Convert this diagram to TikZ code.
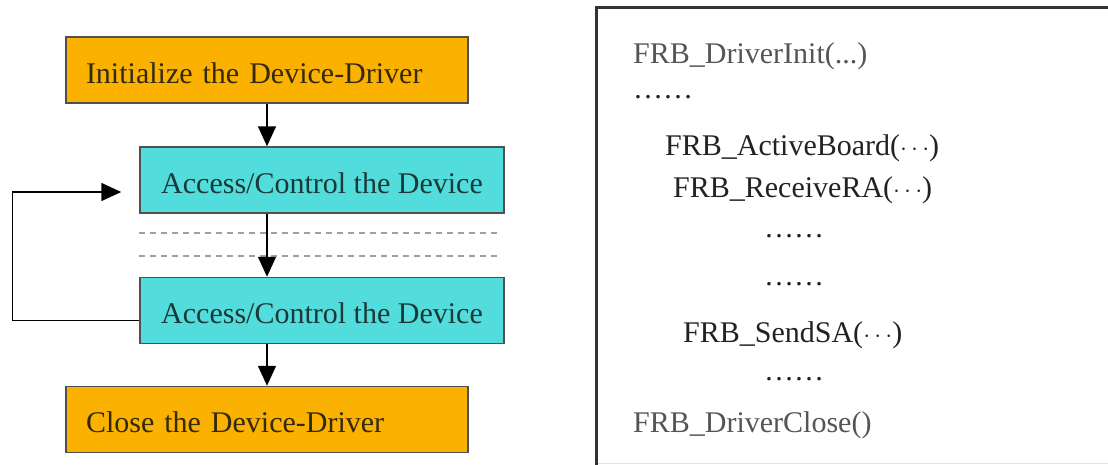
\documentclass[tikz,border=0pt]{standalone}
\usepackage{fontspec}
\setmainfont{Liberation Serif}
\usetikzlibrary{arrows.meta,calc}
\definecolor{boxorange}{HTML}{FBB100}
\definecolor{boxcyan}{HTML}{52DCDC}
\definecolor{edgegray}{HTML}{505050}
\definecolor{txtbrown}{HTML}{33290C}
\definecolor{txtteal}{HTML}{1C3838}
\definecolor{codegray}{HTML}{555555}
\definecolor{codedark}{HTML}{222222}
\begin{document}
\begin{tikzpicture}[x=1pt,y=-1pt,
  every node/.style={font=\fontsize{30}{32}\selectfont, inner sep=0pt},
  orangebox/.style={draw=edgegray, line width=1.5pt, fill=boxorange, text=txtbrown,
    minimum width=402pt, minimum height=66pt, text width=362pt, align=left,
    text height=26pt, text depth=0pt},
  cyanbox/.style={draw=edgegray, line width=1.5pt, fill=boxcyan, text=txtteal,
    minimum width=364pt, minimum height=66pt, align=center,
    text height=26pt, text depth=0pt},
  arr/.style={draw=black, line width=1.5pt, -{Triangle[length=20pt,width=18pt]}},
  sepline/.style={draw=gray!75, line width=2.5pt, dash pattern=on 6pt off 5pt},
  codeline/.style={anchor=base west, text=codedark},
  codefaint/.style={anchor=base west, text=codegray}
]
\useasboundingbox (0,0) rectangle (1108,464);
\fill[white] (0,0) rectangle (1108,464);

% left flow chart
\node[orangebox] (init)  at (267,70)    {Initialize the Device-Driver};
\node[cyanbox]   (acc1)  at (322,180)   {Access/Control the Device};
\node[cyanbox]   (acc2)  at (322,310.5) {Access/Control the Device};
\node[orangebox] (close) at (267,419.5) {Close the Device-Driver};

\coordinate (sepA1) at (139,233);
\coordinate (sepA2) at (500,233);
\coordinate (sepB1) at (139,256);
\coordinate (sepB2) at (500,256);
\draw[sepline] (sepA1) -- (sepA2);
\draw[sepline] (sepB1) -- (sepB2);

\draw[arr] (init.south) -- (init.south |- acc1.north);
\draw[arr] (init.south |- acc1.south) -- (init.south |- acc2.north);
\draw[arr] (init.south |- acc2.south) -- (close.north);
\draw[arr, shorten >=18pt] ([yshift=-10pt]acc2.west) -- ++(-127,0)
  |- ([yshift=-12pt]acc1.west);

% right code panel
\coordinate (pbl) at (596,466);
\coordinate (ptl) at (596,7);
\coordinate (ptr) at (1110,7);
\draw[draw=black!80, line width=3pt] (pbl) -- (ptl) -- (ptr);
\coordinate (pbl2) at (598,463);
\coordinate (pbr2) at (1108,463);
\draw[draw=black!12, line width=1pt] (pbl2) -- (pbr2);

\node[codefaint] (c1) at (633,63)  {FRB\_DriverInit(...)};
\node[codeline]  (c2) at (633,98)  {……};
\node[codeline]  (c3) at (665,155) {FRB\_ActiveBoard($\cdots$)};
\node[codeline]  (c4) at (673,197) {FRB\_ReceiveRA($\cdots$)};
\node[codeline]  (c5) at (764,237) {……};
\node[codeline]  (c6) at (764,285) {……};
\node[codeline]  (c7) at (683,342) {FRB\_SendSA($\cdots$)};
\node[codeline]  (c8) at (764,380) {……};
\node[codefaint] (c9) at (633,432) {FRB\_DriverClose()};
\end{tikzpicture}
\end{document}
